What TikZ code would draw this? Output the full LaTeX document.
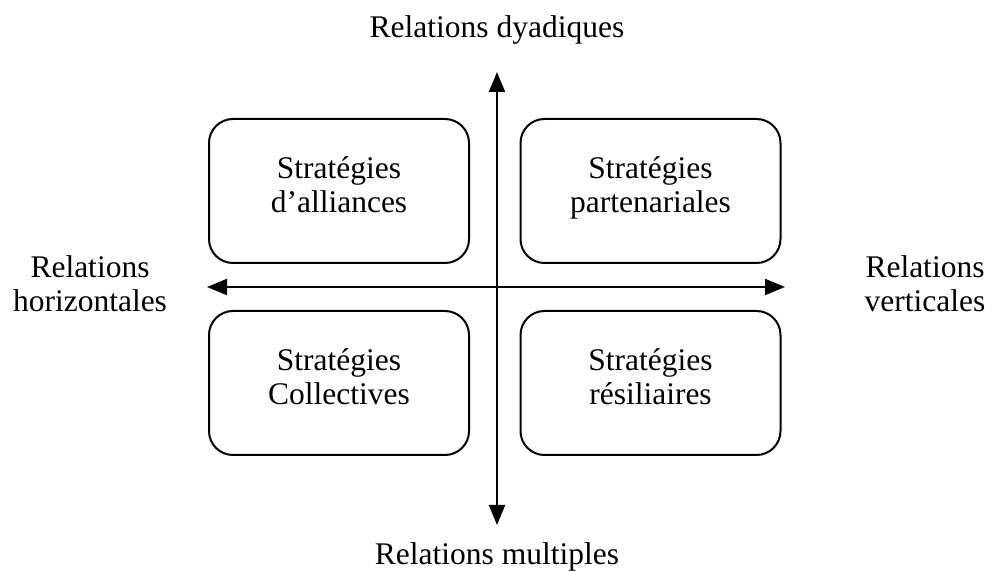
\documentclass[tikz,border=0pt]{standalone}
\usepackage{fontspec}
\setmainfont{Liberation Serif}
\usetikzlibrary{arrows.meta}
\newcommand\qstrut{\rule[-6pt]{0pt}{17pt}}
\begin{document}
\begin{tikzpicture}[x=0.5pt,y=-0.5pt,
  qbox/.style={draw,line width=1pt,rounded corners=12pt,minimum width=130pt,minimum height=72pt,align=center,inner sep=0pt},
  lbl/.style={align=center,inner sep=0pt},
  axis/.style={line width=1pt,{Triangle[width=8pt,length=10pt]}-{Triangle[width=8pt,length=10pt]}},
  font=\fontsize{15.75}{17}\selectfont]
\useasboundingbox (0,0) rectangle (993,572);
\node[qbox] (tl) at (339,191) {\qstrut Stratégies\\\qstrut d’alliances};
\node[qbox] (tr) at (650.5,191) {\qstrut Stratégies\\\qstrut partenariales};
\node[qbox] (bl) at (339,383) {\qstrut Stratégies\\\qstrut Collectives};
\node[qbox] (br) at (650.5,383) {\qstrut Stratégies\\\qstrut résiliaires};
\coordinate (vt) at (497,72);
\coordinate (vb) at (497,525);
\coordinate (hl) at (207,287);
\coordinate (hr) at (785,287);
\draw[axis] (vb) -- (vt);
\draw[axis] (hl) -- (hr);
\node[lbl] (top) at (497,33) {\qstrut Relations dyadiques};
\node[lbl] (bot) at (497,560) {\qstrut Relations multiples};
\node[lbl] (lft) at (90,290) {\qstrut Relations\\\qstrut horizontales};
\node[lbl] (rgt) at (925,290) {\qstrut Relations\\\qstrut verticales};
\end{tikzpicture}
\end{document}
